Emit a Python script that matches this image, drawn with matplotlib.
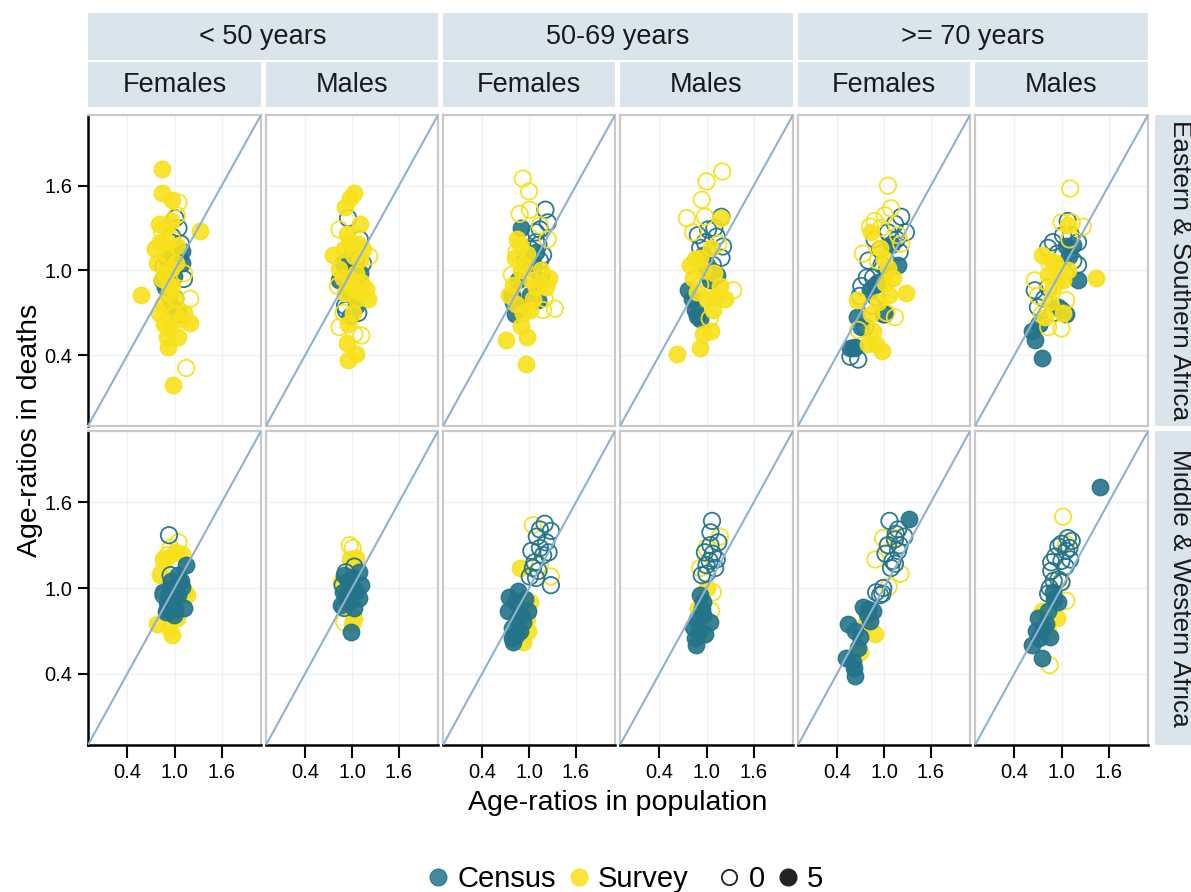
import matplotlib
matplotlib.use("Agg")
import matplotlib.pyplot as plt
from matplotlib.lines import Line2D
import numpy as np

# ---------------- labels ----------------
AGE_GROUPS = ["< 50 years", "50-69 years", ">= 70 years"]
SEXES = ["Females", "Males"]
REGIONS = ["Eastern & Southern Africa", "Middle & Western Africa"]
TICKS = [0.4, 1.0, 1.6]
TICK_LABELS = ["0.4", "1.0", "1.6"]
SOURCES = ["Census", "Survey"]
FILL_LEVELS = ["0", "5"]

# ---------------- data (x = age-ratio in population, y = age-ratio in deaths) ----------------
# Eastern & Southern Africa, < 50, Females
ES_U50_F_CEN_FILL = [(1.05,0.69),(0.84,0.93),(1.05,1.10),(0.91,1.08),(1.10,1.14),(0.93,0.82),(0.99,0.96),(1.10,1.05),
                     (0.88,0.88),(1.00,1.12),(0.95,0.75)]
ES_U50_F_CEN_OPEN = [(1.01,1.37),(0.97,1.24),(1.08,1.19),(0.86,1.03),(1.01,0.80),(1.12,0.94),(1.05,1.30),(0.92,0.90)]
ES_U50_F_SUR_FILL = [(0.84,1.72),(0.84,1.55),(0.97,1.50),(0.80,1.33),(0.89,1.31),(1.33,1.28),(0.76,1.16),(0.78,1.05),
                     (0.58,0.83),(0.84,0.94),(0.97,0.89),(1.20,0.63),(1.12,0.70),(0.93,0.59),(1.05,0.53),(0.91,0.53),
                     (0.92,0.46),(0.98,0.19),(0.86,0.76),(1.01,0.80),(1.08,0.66),(0.95,1.01),(0.89,1.12),(1.03,1.17),
                     (0.80,0.70),(0.93,0.84),(0.90,1.20),(0.95,1.35),(0.88,0.98),(1.00,0.70),(0.87,0.62),(1.02,1.05),
                     (0.93,0.90),(0.82,1.20)]
ES_U50_F_SUR_OPEN = [(1.15,0.31),(1.20,0.80),(1.05,1.48),(0.76,1.15),(0.84,1.28),(1.03,1.39),(0.89,0.63),(1.12,0.98),(0.97,1.22)]

# Eastern & Southern Africa, < 50, Males
ES_U50_M_CEN_FILL = [(0.89,1.05),(1.01,1.03),(0.84,0.93),(1.10,0.98),(0.97,0.68),(1.05,0.75),(0.93,0.98),(1.05,1.08),
                     (0.97,0.85),(1.02,0.92)]
ES_U50_M_CEN_OPEN = [(0.95,1.37),(1.10,1.22),(0.91,0.75),(1.14,1.05),(1.01,1.15),(0.92,0.72),(1.08,0.70)]
ES_U50_M_SUR_FILL = [(1.02,1.55),(0.91,1.45),(0.97,1.51),(1.10,1.33),(0.76,1.11),(0.93,1.26),(1.08,1.19),(1.18,0.87),
                     (1.20,0.80),(1.05,0.80),(0.93,0.49),(1.05,0.41),(0.95,0.37),(0.97,0.94),(0.84,1.01),(1.05,0.98),
                     (1.01,0.70),(1.10,1.08),(0.91,0.84),(1.14,1.15),(0.98,1.20),(1.02,1.10),(0.90,1.15),(1.00,0.88),
                     (1.08,0.85),(0.95,0.62),(1.12,0.92),(0.88,0.95)]
ES_U50_M_SUR_OPEN = [(1.22,1.10),(0.84,0.60),(1.03,0.55),(1.12,0.54),(0.89,0.70),(0.84,1.29),(0.82,0.89)]

# Eastern & Southern Africa, 50-69, Females
ES_5069_F_CEN_FILL = [(0.90,1.30),(0.78,0.83),(0.82,0.69),(1.09,1.13),(1.14,0.93),(1.01,0.83),(1.11,0.79),(0.86,0.93),
                      (0.95,1.08),(1.05,1.05),(0.90,0.75),(0.80,0.78)]
ES_5069_F_CEN_OPEN = [(1.21,1.43),(1.24,1.34),(1.14,1.29),(1.09,1.20),(1.18,1.11),(1.14,1.07),(1.05,1.02),(1.09,1.27),
                      (1.02,1.15),(1.12,1.18),(1.16,0.97)]
ES_5069_F_SUR_FILL = [(0.71,0.51),(0.97,0.53),(0.96,0.34),(0.90,0.61),(1.26,0.95),(1.22,0.88),(0.75,0.83),(0.88,1.18),
                      (0.82,1.09),(0.94,1.04),(1.03,0.93),(0.84,0.76),(1.09,0.88),(1.01,0.72),(0.90,1.00),(0.98,1.12),
                      (1.05,0.80),(0.80,0.90),(0.92,0.70),(1.15,1.00),(0.85,1.22)]
ES_5069_F_SUR_OPEN = [(0.92,1.65),(1.00,1.56),(0.88,1.40),(1.01,1.43),(1.33,0.73),(1.18,0.72),(0.78,0.97),(1.24,1.22),
                      (1.14,1.32),(1.20,0.80),(0.84,1.13)]

# Eastern & Southern Africa, 50-69, Males
ES_5069_M_CEN_FILL = [(0.77,0.86),(0.85,0.72),(0.92,0.66),(1.13,0.97),(1.04,0.93),(0.96,1.11),(0.82,0.80),(0.88,0.68),(1.00,1.02)]
ES_5069_M_CEN_OPEN = [(1.19,1.38),(1.02,1.29),(0.89,1.25),(1.13,1.24),(1.21,1.17),(1.19,1.09),(0.92,1.16),(1.08,1.04),
                      (0.98,1.20),(1.10,1.30),(1.00,0.98)]
ES_5069_M_SUR_FILL = [(1.19,1.37),(0.63,0.41),(0.92,0.45),(0.96,0.55),(1.06,0.57),(0.79,1.04),(0.83,0.95),(1.23,0.80),
                      (1.17,0.89),(1.00,0.80),(1.06,1.16),(0.92,1.09),(1.08,0.72),(0.88,0.85),(0.95,1.00),(1.10,0.98),
                      (0.85,1.08),(1.12,0.82)]
ES_5069_M_SUR_OPEN = [(1.20,1.70),(1.00,1.63),(0.94,1.50),(0.75,1.37),(0.98,1.38),(1.34,0.86),(1.04,0.66),(0.83,1.27),
                      (1.15,1.19),(0.92,0.90)]

# Eastern & Southern Africa, >= 70, Females
ES_70_F_CEN_FILL = [(1.18,1.04),(1.09,1.19),(0.88,0.90),(0.63,0.46),(0.57,0.45),(0.65,0.67),(0.99,0.69),(0.82,0.86),
                    (1.02,1.00),(0.70,0.60),(0.92,0.92)]
ES_70_F_CEN_OPEN = [(1.22,1.38),(1.28,1.27),(1.14,1.33),(1.05,1.27),(0.88,1.22),(1.20,1.13),(0.80,1.07),(0.97,1.04),
                    (0.71,0.89),(0.86,0.95),(0.69,0.82),(1.01,0.69),(0.57,0.39),(0.67,0.37),(0.76,0.60),(0.90,0.81),
                    (1.10,1.18),(0.95,1.15),(0.78,0.95),(0.62,0.45),(0.85,0.75),(1.16,1.22)]
ES_70_F_SUR_FILL = [(0.84,1.27),(0.95,1.16),(1.05,1.02),(1.01,0.91),(1.28,0.84),(1.07,0.83),(0.65,0.79),(0.84,0.69),
                    (0.86,0.57),(0.80,0.48),(0.97,0.43),(0.90,0.48),(1.00,1.08),(0.92,0.78),(1.12,0.95)]
ES_70_F_SUR_OPEN = [(1.05,1.60),(1.09,1.44),(0.88,1.35),(1.01,1.39),(0.73,1.12),(1.14,0.67),(1.03,0.70),(1.22,1.19),
                    (0.82,1.31),(0.67,0.58),(0.92,1.07),(0.96,1.30),(1.18,1.25)]

# Eastern & Southern Africa, >= 70, Males
ES_70_M_CEN_FILL = [(0.75,0.38),(0.66,0.51),(0.62,0.57),(1.21,0.93),(1.06,1.17),(1.15,1.18),(0.96,0.74),(1.06,0.69),
                    (1.10,1.10),(0.72,0.62)]
ES_70_M_CEN_OPEN = [(1.08,1.35),(0.89,1.20),(0.83,1.16),(1.21,1.20),(1.15,1.07),(0.66,0.86),(0.83,0.88),(1.00,0.72),
                    (0.70,0.74),(1.21,1.04),(0.95,1.12),(1.02,1.25),(0.78,0.80),(0.90,0.70),(1.12,1.25),(0.72,0.62)]
ES_70_M_SUR_FILL = [(1.44,0.95),(0.75,1.11),(0.88,1.07),(0.96,1.01),(1.02,0.93),(0.83,0.97),(1.08,1.32),(0.79,0.67),
                    (0.89,0.88),(1.08,1.00),(0.92,1.05),(0.98,0.95),(0.85,0.78),(1.02,0.70)]
ES_70_M_SUR_OPEN = [(1.11,1.58),(1.00,1.34),(1.27,1.31),(0.70,0.82),(1.06,0.79),(1.00,0.59),(0.83,0.60),(0.75,0.69),
                    (0.66,0.93),(1.13,1.34),(0.85,1.05),(1.10,1.22)]

# Middle & Western Africa, < 50, Females
MW_U50_F_CEN_FILL = [(1.14,1.16),(1.10,1.01),(1.12,0.86),(1.01,0.93),(0.91,0.90),(0.89,0.83),(1.05,1.09),(0.95,1.00),
                     (0.86,0.97),(0.99,0.81),(0.95,1.05),(1.05,0.95),(0.98,0.88),(1.08,1.05),(0.92,0.95),(1.00,0.85),(0.90,0.85)]
MW_U50_F_CEN_OPEN = [(0.93,1.37),(0.95,1.09),(0.86,0.95)]
MW_U50_F_SUR_FILL = [(1.10,1.24),(0.91,1.21),(0.82,1.09),(0.78,0.75),(0.97,0.67),(1.16,0.95),(0.93,0.72),(1.03,0.79),
                     (0.85,1.20),(1.00,1.25),(1.12,0.98)]
MW_U50_F_SUR_OPEN = [(1.05,1.32),(0.95,1.28),(0.91,1.23),(0.84,1.11)]

# Middle & Western Africa, < 50, Males
MW_U50_M_CEN_FILL = [(0.99,0.69),(1.09,1.11),(1.11,1.02),(1.09,0.93),(0.90,1.09),(0.88,0.97),(0.86,0.88),(0.99,1.00),(0.95,0.90),
                     (1.00,1.08),(0.92,0.95),(1.05,0.98),(0.95,1.05),(1.02,0.86)]
MW_U50_M_CEN_OPEN = [(0.92,1.11),(0.88,1.02),(0.90,0.86),(1.03,1.15),(0.95,0.94)]
MW_U50_M_SUR_FILL = [(1.05,1.21),(1.03,0.79),(0.95,0.86),(0.86,1.04),(0.98,1.20),(1.00,0.75)]
MW_U50_M_SUR_OPEN = [(0.97,1.30),(1.01,1.28),(0.90,0.76)]

# Middle & Western Africa, 50-69, Females
MW_5069_F_CEN_FILL = [(0.75,0.94),(0.73,0.84),(0.86,0.98),(0.78,0.72),(0.80,0.62),(0.90,0.81),(0.92,0.76),(0.84,0.67),(0.99,0.84),
                      (0.82,0.90),(0.88,0.70),(0.78,0.65),(0.95,0.92),(0.85,0.78)]
MW_5069_F_CEN_OPEN = [(1.20,1.45),(1.28,1.40),(1.14,1.41),(1.22,1.32),(1.03,1.26),(1.14,1.28),(1.07,1.18),(1.18,1.23),
                      (1.01,1.08),(1.09,1.07),(1.28,1.02),(1.05,1.14),(1.10,1.36),(1.25,1.25),(1.12,1.12)]
MW_5069_F_SUR_FILL = [(0.88,1.14),(0.94,0.87),(0.92,0.62),(0.99,0.70),(1.01,0.90),(0.97,0.78)]
MW_5069_F_SUR_OPEN = [(1.05,1.44),(1.28,1.08),(1.14,1.16)]

# Middle & Western Africa, 50-69, Males
MW_5069_M_CEN_FILL = [(0.92,0.95),(0.96,0.81),(0.83,0.73),(0.87,0.60),(0.98,0.68),(1.04,0.76),(0.96,0.90),
                      (0.90,0.70),(0.85,0.65),(0.94,0.85),(0.88,0.78)]
MW_5069_M_CEN_OPEN = [(1.07,1.47),(1.05,1.39),(1.15,1.32),(0.98,1.25),(1.08,1.24),(1.00,1.16),(1.11,1.14),(0.94,1.09),(1.04,1.19),
                      (1.05,1.30),(1.00,1.10),(1.13,1.20)]
MW_5069_M_SUR_FILL = [(1.00,1.00),(0.89,0.86),(0.96,0.67)]
MW_5069_M_SUR_OPEN = [(1.17,1.36),(0.92,1.14),(1.08,0.97),(1.06,0.84),(1.00,1.28)]

# Middle & Western Africa, >= 70, Females
MW_70_F_CEN_FILL = [(1.32,1.48),(0.73,0.87),(0.78,0.82),(0.86,0.84),(0.54,0.75),(0.63,0.70),(0.69,0.66),(0.67,0.58),
                    (0.52,0.51),(0.61,0.44),(0.63,0.38),(0.82,0.77),(0.80,0.85),(0.60,0.48)]
MW_70_F_CEN_OPEN = [(1.07,1.47),(1.18,1.41),(1.26,1.36),(1.14,1.34),(1.05,1.30),(1.18,1.26),(1.11,1.19),(1.09,1.14),
                    (0.99,1.00),(0.95,0.95),(0.90,0.97),(1.14,1.17),(1.20,1.30),(1.02,1.24),(0.98,0.96),(1.15,1.38)]
MW_70_F_SUR_FILL = [(0.88,0.68),(0.69,0.55),(0.76,0.74)]
MW_70_F_SUR_OPEN = [(0.99,1.35),(1.14,1.35),(1.05,1.30),(0.89,1.20),(1.21,1.10),(1.06,1.01)]

# Middle & Western Africa, >= 70, Males
MW_70_M_CEN_FILL = [(1.49,1.71),(0.89,0.97),(0.96,0.90),(0.70,0.79),(0.77,0.72),(0.85,0.66),(0.62,0.60),(0.75,0.51),
                    (0.68,0.70),(0.83,0.84),(0.90,0.92),(0.80,0.75),(0.72,0.65)]
MW_70_M_CEN_OPEN = [(1.08,1.35),(1.00,1.31),(1.13,1.33),(0.96,1.29),(1.06,1.26),(1.00,1.19),(0.87,1.18),(1.11,1.20),
                    (0.87,1.12),(1.00,1.04),(0.83,0.96),(0.96,1.06),(1.10,1.28),(0.92,1.22),(1.05,1.15),(0.90,1.05),(0.85,1.00)]
MW_70_M_SUR_FILL = [(0.79,0.81),(0.94,0.79),(0.83,0.69),(0.75,0.84)]
MW_70_M_SUR_OPEN = [(1.02,1.50),(1.06,1.31),(1.00,1.05),(1.06,0.91),(0.85,0.46)]

PANELS = {
    (0, 0, 0): (ES_U50_F_CEN_FILL, ES_U50_F_CEN_OPEN, ES_U50_F_SUR_FILL, ES_U50_F_SUR_OPEN),
    (0, 0, 1): (ES_U50_M_CEN_FILL, ES_U50_M_CEN_OPEN, ES_U50_M_SUR_FILL, ES_U50_M_SUR_OPEN),
    (0, 1, 0): (ES_5069_F_CEN_FILL, ES_5069_F_CEN_OPEN, ES_5069_F_SUR_FILL, ES_5069_F_SUR_OPEN),
    (0, 1, 1): (ES_5069_M_CEN_FILL, ES_5069_M_CEN_OPEN, ES_5069_M_SUR_FILL, ES_5069_M_SUR_OPEN),
    (0, 2, 0): (ES_70_F_CEN_FILL, ES_70_F_CEN_OPEN, ES_70_F_SUR_FILL, ES_70_F_SUR_OPEN),
    (0, 2, 1): (ES_70_M_CEN_FILL, ES_70_M_CEN_OPEN, ES_70_M_SUR_FILL, ES_70_M_SUR_OPEN),
    (1, 0, 0): (MW_U50_F_CEN_FILL, MW_U50_F_CEN_OPEN, MW_U50_F_SUR_FILL, MW_U50_F_SUR_OPEN),
    (1, 0, 1): (MW_U50_M_CEN_FILL, MW_U50_M_CEN_OPEN, MW_U50_M_SUR_FILL, MW_U50_M_SUR_OPEN),
    (1, 1, 0): (MW_5069_F_CEN_FILL, MW_5069_F_CEN_OPEN, MW_5069_F_SUR_FILL, MW_5069_F_SUR_OPEN),
    (1, 1, 1): (MW_5069_M_CEN_FILL, MW_5069_M_CEN_OPEN, MW_5069_M_SUR_FILL, MW_5069_M_SUR_OPEN),
    (1, 2, 0): (MW_70_F_CEN_FILL, MW_70_F_CEN_OPEN, MW_70_F_SUR_FILL, MW_70_F_SUR_OPEN),
    (1, 2, 1): (MW_70_M_CEN_FILL, MW_70_M_CEN_OPEN, MW_70_M_SUR_FILL, MW_70_M_SUR_OPEN),
}

# ---------------- style ----------------
CEN_COLOR = "#23738A"
SUR_COLOR = "#F8E11A"
LINE_COLOR = "#8FB1D0"
STRIP_COLOR = "#D9E5EB"
BORDER_COLOR = "#C9C9C9"
GRID_COLOR = "#EDF2F5"
LIM = (-0.1, 2.1)
FONT = ["Liberation Sans", "DejaVu Sans"]

plt.rcParams["font.family"] = FONT

W, H = 1191, 892
fig = plt.figure(figsize=(W / 100, H / 100), dpi=100)


def rect(l, t, r, b):
    return [l / W, 1 - b / H, (r - l) / W, (b - t) / H]


COL_PX = [(88, 261), (266, 438), (443, 615), (620, 793), (798, 970), (975, 1148)]
ROW_PX = [(115, 426), (431, 745)]


def pts(lst):
    a = np.array(lst, dtype=float).reshape(-1, 2)
    return a[:, 0], a[:, 1]


def draw_group(ax, data, color, filled):
    if len(data) == 0:
        return
    x, y = pts(data)
    if filled:
        ax.scatter(x, y, s=140, facecolor=color, edgecolor=color, linewidth=1.0, alpha=0.9, zorder=3)
    else:
        ax.scatter(x, y, s=140, facecolor="none", edgecolor=color, linewidth=1.3, alpha=0.95, zorder=3)


for r in range(2):
    for g in range(3):
        for s in range(2):
            c = g * 2 + s
            l, rr = COL_PX[c]
            t, b = ROW_PX[r]
            ax = fig.add_axes(rect(l, t, rr, b))
            ax.set_xlim(*LIM)
            ax.set_ylim(*LIM)
            for v in TICKS:
                ax.axvline(v, color=GRID_COLOR, lw=1.0, zorder=0)
                ax.axhline(v, color=GRID_COLOR, lw=1.0, zorder=0)
            cf, co, sf, so = PANELS[(r, g, s)]
            if r == 0:
                draw_group(ax, cf, CEN_COLOR, True)
                draw_group(ax, co, CEN_COLOR, False)
                draw_group(ax, sf, SUR_COLOR, True)
                draw_group(ax, so, SUR_COLOR, False)
            else:
                draw_group(ax, sf, SUR_COLOR, True)
                draw_group(ax, so, SUR_COLOR, False)
                draw_group(ax, cf, CEN_COLOR, True)
                draw_group(ax, co, CEN_COLOR, False)
            ax.plot(LIM, LIM, color=LINE_COLOR, lw=1.5, zorder=4)
            for sp in ax.spines.values():
                sp.set_color(BORDER_COLOR)
                sp.set_linewidth(1.6)
            ax.set_xticks(TICKS)
            ax.set_yticks(TICKS)
            if c == 0:
                ax.spines["left"].set_color("black")
                ax.spines["left"].set_linewidth(1.8)
                ax.set_yticklabels(TICK_LABELS, fontsize=14.5)
                ax.tick_params(axis="y", length=7, width=1.5, color="black", pad=4)
            else:
                ax.tick_params(axis="y", length=0, labelleft=False)
            if r == 1:
                ax.spines["bottom"].set_color("black")
                ax.spines["bottom"].set_linewidth(1.8)
                ax.set_xticklabels(TICK_LABELS, fontsize=14.5)
                ax.tick_params(axis="x", length=9, width=1.5, color="black", pad=4)
            else:
                ax.tick_params(axis="x", length=0, labelbottom=False)
            ax.set_facecolor("white")

# ---------------- strips ----------------
def strip(l, t, r, b, text, rot=0, size=19.5):
    sa = fig.add_axes(rect(l, t, r, b))
    sa.set_facecolor(STRIP_COLOR)
    for sp in sa.spines.values():
        sp.set_visible(False)
    sa.set_xticks([])
    sa.set_yticks([])
    sa.text(0.5, 0.5, text, ha="center", va="center", rotation=rot, fontsize=size,
            color="#1A1A1A", transform=sa.transAxes)
    return sa


for g in range(3):
    strip(COL_PX[2 * g][0], 13, COL_PX[2 * g + 1][1], 60, AGE_GROUPS[g])
    for s in range(2):
        c = 2 * g + s
        strip(COL_PX[c][0], 62, COL_PX[c][1], 107, SEXES[s])

for r in range(2):
    strip(1155, ROW_PX[r][0], 1205, ROW_PX[r][1], REGIONS[r], rot=-90, size=18.8)

# ---------------- axis titles ----------------
fig.text((88 + 1148) / 2 / W, 1 - 803 / H, "Age-ratios in population", ha="center", va="center", fontsize=20.5)
fig.text(30 / W, 1 - 430 / H, "Age-ratios in deaths", ha="center", va="center", rotation=90, fontsize=20.5)

# ---------------- legends ----------------
h1 = [Line2D([], [], marker="o", linestyle="none", markersize=12, markerfacecolor=CEN_COLOR,
             markeredgecolor=CEN_COLOR, alpha=0.85, label=SOURCES[0]),
      Line2D([], [], marker="o", linestyle="none", markersize=12, markerfacecolor=SUR_COLOR,
             markeredgecolor=SUR_COLOR, alpha=0.85, label=SOURCES[1])]
h2 = [Line2D([], [], marker="o", linestyle="none", markersize=11, markerfacecolor="white",
             markeredgecolor="#222222", markeredgewidth=1.3, label=FILL_LEVELS[0]),
      Line2D([], [], marker="o", linestyle="none", markersize=12, markerfacecolor="#222222",
             markeredgecolor="#222222", label=FILL_LEVELS[1])]
leg1 = fig.legend(handles=h1, ncol=2, loc="center", bbox_to_anchor=(556 / W, 1 - 879 / H),
                  frameon=False, fontsize=21, handletextpad=0.15, columnspacing=0.3, handlelength=1.0,
                  borderaxespad=0, borderpad=0)
leg2 = fig.legend(handles=h2, ncol=2, loc="center", bbox_to_anchor=(769 / W, 1 - 879 / H),
                  frameon=False, fontsize=21, handletextpad=0.15, columnspacing=0.3, handlelength=1.0,
                  borderaxespad=0, borderpad=0)

fig.savefig("out.png", dpi=100)
